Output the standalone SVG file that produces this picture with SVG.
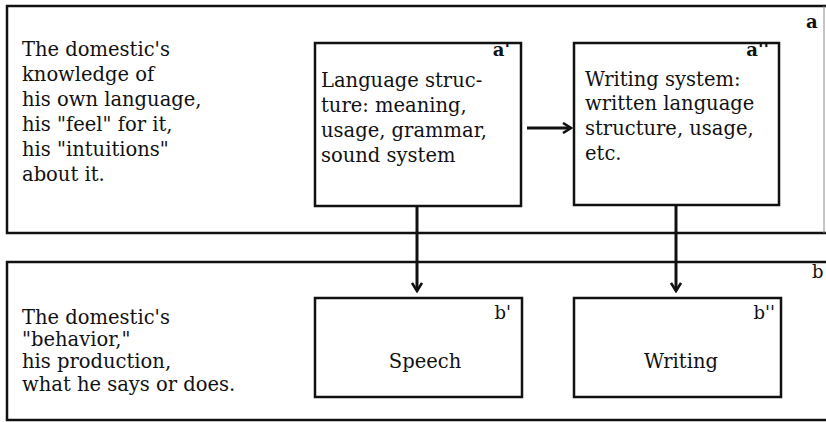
<svg xmlns="http://www.w3.org/2000/svg" width="826" height="422" viewBox="0 0 826 422">
<defs>
<style>
.frame{fill:none;stroke:#111;stroke-width:2.5}
.edge{fill:none;stroke:#888;stroke-width:1}
.box{fill:none;stroke:#111;stroke-width:2.5}
.t{font-family:"DejaVu Serif","Liberation Serif",serif;font-size:19.5px;fill:#111}
.lbl{font-family:"DejaVu Serif","Liberation Serif",serif;font-size:18px;fill:#111}
.b{font-weight:bold}
.conn{fill:none;stroke:#111;stroke-width:3}
</style>
<marker id="ah" viewBox="0 0 12 12" refX="10" refY="6" markerWidth="12" markerHeight="12" markerUnits="userSpaceOnUse" orient="auto">
<path d="M2,1 L10,6 L2,11" fill="none" stroke="#111" stroke-width="2.6"/>
</marker>
</defs>
<rect width="826" height="422" fill="#fff"/>
<g id="a">
<path class="frame" d="M826,6 H7 V233 H826"/>
<line class="edge" x1="824" y1="6" x2="824" y2="233"/>
<text class="lbl b" x="806" y="28">a</text>
<text class="t"><tspan x="22" y="56">The domestic's</tspan><tspan x="22" y="81">knowledge of</tspan><tspan x="22" y="106">his own language,</tspan><tspan x="22" y="131">his "feel" for it,</tspan><tspan x="22" y="156">his "intuitions"</tspan><tspan x="22" y="181">about it.</tspan></text>
</g>
<g id="a1">
<rect class="box" x="315" y="43" width="206" height="163"/>
<text class="lbl b" x="510" y="56" text-anchor="end">a'</text>
<text class="t"><tspan x="321" y="87">Language struc-</tspan><tspan x="321" y="112">ture:  meaning,</tspan><tspan x="321" y="137">usage, grammar,</tspan><tspan x="321" y="162">sound system</tspan></text>
</g>
<g id="a2">
<rect class="box" x="574" y="43" width="205" height="162"/>
<text class="lbl b" x="769" y="56" text-anchor="end">a''</text>
<text class="t"><tspan x="585" y="86">Writing system:</tspan><tspan x="585" y="110">written language</tspan><tspan x="585" y="135">structure, usage,</tspan><tspan x="585" y="160">etc.</tspan></text>
</g>
<g id="b">
<path class="frame" d="M826,262 H7 V420 H826"/>
<text class="lbl" x="812" y="278">b</text>
<text class="t"><tspan x="22" y="324">The domestic's</tspan><tspan x="22" y="346">"behavior,"</tspan><tspan x="22" y="368">his production,</tspan><tspan x="22" y="391">what he says or does.</tspan></text>
</g>
<g id="b1">
<rect class="box" x="315" y="298" width="207" height="99"/>
<text class="lbl" x="511" y="319" text-anchor="end">b'</text>
<text class="t" x="425" y="368" text-anchor="middle">Speech</text>
</g>
<g id="b2">
<rect class="box" x="574" y="298" width="207" height="99"/>
<text class="lbl" x="775" y="319" text-anchor="end">b''</text>
<text class="t" x="681" y="368" text-anchor="middle">Writing</text>
</g>
<g id="connectors">
<line class="conn" x1="527" y1="128" x2="571" y2="128" marker-end="url(#ah)"/>
<line class="conn" x1="417" y1="207" x2="417" y2="291" marker-end="url(#ah)"/>
<line class="conn" x1="676" y1="206" x2="676" y2="291" marker-end="url(#ah)"/>
</g>
</svg>
